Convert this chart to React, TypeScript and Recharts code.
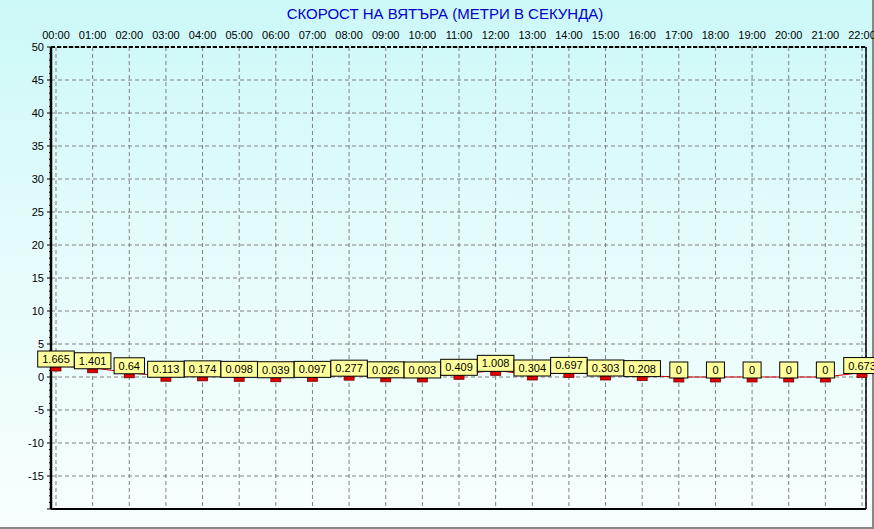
import React from 'react';
import { ComposedChart, Line, XAxis, YAxis, CartesianGrid, LabelList } from 'recharts';

const title = 'СКОРОСТ НА ВЯТЪРА (МЕТРИ В СЕКУНДА)';
const times = ['00:00', '01:00', '02:00', '03:00', '04:00', '05:00', '06:00', '07:00', '08:00', '09:00', '10:00', '11:00', '12:00', '13:00', '14:00', '15:00', '16:00', '17:00', '18:00', '19:00', '20:00', '21:00', '22:00'];
const speeds = [1.665, 1.401, 0.64, 0.113, 0.174, 0.098, 0.039, 0.097, 0.277, 0.026, 0.003, 0.409, 1.008, 0.304, 0.697, 0.303, 0.208, 0, 0, 0, 0, 0, 0.673];
const yMajorTicks = [-20, -15, -10, -5, 0, 5, 10, 15, 20, 25, 30, 35, 40, 45, 50];
const yAllTicks: number[] = [];
for (let v = -20; v <= 50; v++) yAllTicks.push(v);

const data = times.map((t, i) => ({ time: t, v: speeds[i] }));

const FONT = '"Liberation Sans", Arial, sans-serif';

const textWidth = (s: string) => {
  let w = 0;
  for (const c of s) w += c === '.' ? 3.06 : 6.12;
  return w;
};

const XTick = (props: any) => {
  const { x, payload } = props;
  return (
    <text x={x} y={39} textAnchor="middle" fontSize={11} fontFamily={FONT} fill="#000">
      {payload.value}
    </text>
  );
};

const YTick = (props: any) => {
  const { y, payload } = props;
  const v = payload.value as number;
  const major = v % 5 === 0;
  const ax = 51;
  return (
    <g>
      <line x1={ax - (major ? 4 : 2)} x2={ax} y1={y} y2={y} stroke="#000" strokeWidth={1} />
      {major && v !== -20 ? (
        <text x={ax - 7} y={y + 4} textAnchor="end" fontSize={11} fontFamily={FONT} fill="#000">
          {v}
        </text>
      ) : null}
    </g>
  );
};

const Marker = (props: any) => {
  const { cx, cy, index } = props;
  if (cx == null || cy == null) return <g key={index} />;
  return <rect key={index} x={cx - 5} y={cy + 1} width={10} height={4} fill="#dd0000" stroke="#800000" strokeWidth={0.8} />;
};

const ValueLabel = (props: any) => {
  const { x, y, value, index } = props;
  const s = String(value);
  const w = Math.max(18, textWidth(s) + 9);
  return (
    <g key={index}>
      <rect x={x - w / 2} y={y - 15} width={w} height={16} fill="#ffff9c" stroke="#000" strokeWidth={1} />
      <text x={x} y={y - 3} textAnchor="middle" fontSize={11} fontFamily={FONT} fill="#000">
        {s}
      </text>
    </g>
  );
};

export default function App() {
  return (
    <div
      style={{
        position: 'absolute',
        left: 0,
        top: 0,
        width: 874,
        height: 529,
        boxSizing: 'border-box',
        background: 'linear-gradient(to bottom, #ccf8f8 0%, #e4fbfb 45%, #f8fefe 100%)',
        borderRight: '2px solid #888',
        borderBottom: '2px solid #888',
      }}
    >
      <div
        style={{
          position: 'absolute',
          left: 0,
          top: 5,
          width: 890,
          textAlign: 'center',
          fontFamily: FONT,
          fontSize: 15,
          color: '#0000c8',
          lineHeight: '18px',
        }}
      >
        {title}
      </div>
      <div style={{ position: 'absolute', left: 0, top: 0 }}>
        <ComposedChart width={874} height={529} data={data} margin={{ top: 0, right: 0, bottom: 0, left: 0 }}>
          <CartesianGrid
            stroke="#808080"
            strokeDasharray="4 3"
            horizontalValues={yMajorTicks}
            fill="none"
          />
          <XAxis
            dataKey="time"
            orientation="top"
            height={47}
            padding={{ left: 5, right: 4 }}
            interval={0}
            tick={<XTick />}
            tickLine={false}
            axisLine={{ stroke: '#000', strokeWidth: 2, strokeDasharray: '4 2' }}
          />
          <XAxis
            xAxisId="b"
            dataKey="time"
            orientation="bottom"
            height={20}
            padding={{ left: 5, right: 4 }}
            tick={false}
            tickLine={false}
            axisLine={{ stroke: '#000', strokeWidth: 2 }}
          />
          <YAxis
            domain={[-20, 50]}
            ticks={yAllTicks}
            interval={0}
            width={51}
            type="number"
            allowDataOverflow
            tick={<YTick />}
            tickLine={false}
            axisLine={{ stroke: '#000', strokeWidth: 2.5 }}
          />
          <YAxis
            yAxisId="r"
            orientation="right"
            domain={[-20, 50]}
            width={8}
            type="number"
            tick={false}
            tickLine={false}
            axisLine={{ stroke: '#000', strokeWidth: 1.5 }}
          />
          <Line
            dataKey="v"
            type="linear"
            stroke="#cc0000"
            strokeWidth={1}
            dot={<Marker />}
            activeDot={false}
            isAnimationActive={false}
          >
            <LabelList dataKey="v" content={<ValueLabel />} />
          </Line>
        </ComposedChart>
      </div>
    </div>
  );
}
